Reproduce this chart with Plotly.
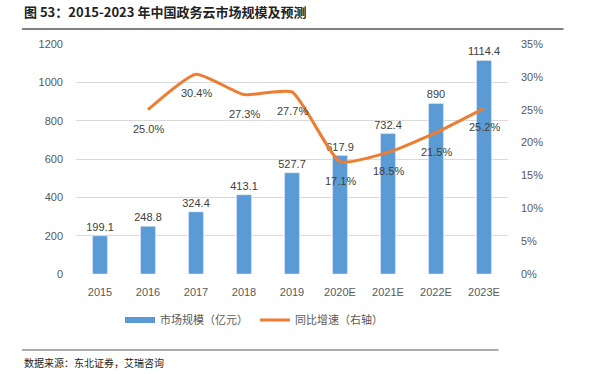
import plotly.graph_objects as go

years = ["2015", "2016", "2017", "2018", "2019", "2020E", "2021E", "2022E", "2023E"]
market = [199.1, 248.8, 324.4, 413.1, 527.7, 617.9, 732.4, 890, 1114.4]
growth_years = ["2016", "2017", "2018", "2019", "2020E", "2021E", "2022E", "2023E"]
growth = [0.250, 0.304, 0.273, 0.277, 0.171, 0.185, 0.215, 0.252]
left_ticks = [0, 200, 400, 600, 800, 1000, 1200]
right_ticks = [0, 0.05, 0.10, 0.15, 0.20, 0.25, 0.30, 0.35]

FONT = "Liberation Sans, Noto Sans CJK SC, sans-serif"
GRAY = "#595959"
BLUE = "#5B9BD5"
ORANGE = "#ED7D31"

xpos = list(range(len(years)))
gpos = [years.index(g) for g in growth_years]

fig = go.Figure()
fig.add_trace(go.Bar(
    x=xpos, y=market, name="市场规模（亿元）", showlegend=False,
    marker_color=BLUE, width=0.31,
    text=[f"{v:g}" for v in market], textposition="outside", constraintext="none",
    textfont=dict(size=11, color="#404040", family=FONT),
    cliponaxis=False,
))
# legend entry for bars drawn as a wide rectangle like the reference
fig.add_trace(go.Scatter(
    x=[None], y=[None], name="市场规模（亿元）", mode="lines",
    line=dict(color=BLUE, width=6),
))
fig.add_trace(go.Scatter(
    x=gpos, y=growth, name="同比增速（右轴）", yaxis="y2",
    mode="lines", line=dict(color=ORANGE, width=3, shape="spline", smoothing=0.5),
))

annotations = []
for x, g in zip(gpos, growth):
    annotations.append(dict(
        x=x, y=g, xref="x", yref="y2", text=f"{g*100:.1f}%", showarrow=False,
        yshift=-19, font=dict(size=11, color="#404040", family=FONT),
    ))

W, H = 594, 374
ml, mr, mt, mb = 76, 86, 44, 100
pw, ph = W - ml - mr, H - mt - mb

def px2paper(px, py):
    return (px - ml) / pw, 1 - (py - mt) / ph

tx, ty = px2paper(22, 12)
annotations.append(dict(
    x=tx, y=ty, xref="paper", yref="paper",
    text="<b>图 53：2015-2023 年中国政务云市场规模及预测</b>",
    showarrow=False, xanchor="left", yanchor="middle",
    font=dict(size=13, color="#222222", family="Noto Sans CJK SC, serif"),
))
sx, sy = px2paper(22, 362)
annotations.append(dict(
    x=sx, y=sy, xref="paper", yref="paper", text="数据来源：东北证券，艾瑞咨询", showarrow=False,
    xanchor="left", yanchor="middle",
    font=dict(size=10, color="#222222", family="Noto Sans CJK SC, sans-serif"),
))

def rule(py, x0, x1, color, thick):
    a0, b = px2paper(x0, py)
    return dict(x=a0, y=b, xref="paper", yref="paper", text="", showarrow=True,
                ax=x1 - x0, ay=0, axref="pixel", ayref="pixel", arrowhead=0,
                arrowwidth=thick, arrowcolor=color, standoff=0, startstandoff=0)

annotations.append(rule(29, 22, 565, "#7F7F7F", 2))
annotations.append(rule(350, 22, 500, "#595959", 1))

lx, ly = px2paper(120, 320)

fig.update_layout(
    width=W, height=H,
    margin=dict(l=ml, r=mr, t=mt, b=mb, autoexpand=False),
    paper_bgcolor="white", plot_bgcolor="white",
    font=dict(family=FONT, size=11, color=GRAY),
    showlegend=True,
    legend=dict(orientation="h", x=lx, xanchor="left", y=ly, yanchor="middle",
                font=dict(size=11, color=GRAY, family="Noto Sans CJK SC, sans-serif"),
                itemwidth=30, entrywidth=90),
    xaxis=dict(range=[-0.5, len(years) - 0.5], tickvals=xpos, ticktext=years,
               tickfont=dict(size=11, color=GRAY), showline=False,
               ticks="", showgrid=False, zeroline=False, ticklabelstandoff=10),
    yaxis=dict(range=[0, 1200], tickvals=left_ticks, showgrid=True, gridcolor="#D9D9D9",
               gridwidth=1, zeroline=False, tickfont=dict(size=11, color=GRAY), ticks="",
               ticklabelstandoff=12),
    yaxis2=dict(range=[0, 0.35], tickvals=right_ticks, tickformat=".0%", overlaying="y",
                side="right", showgrid=False, zeroline=False,
                tickfont=dict(size=11, color=GRAY), ticklabelstandoff=12),
    annotations=annotations,
)

fig.write_html("out.html", config={"displayModeBar": False},
               post_script="document.body.style.margin='0';")
